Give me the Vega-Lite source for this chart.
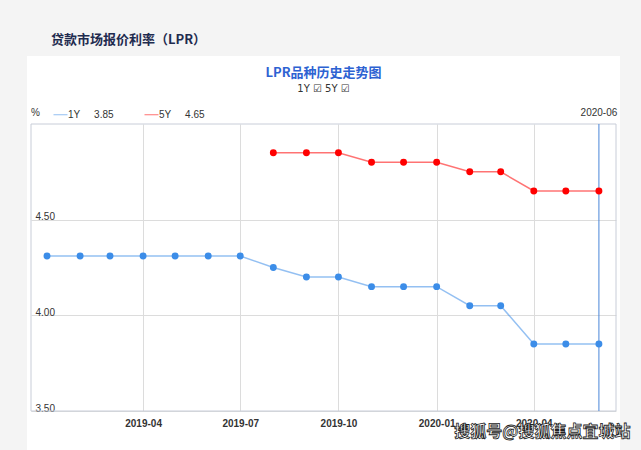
{
  "$schema": "https://vega.github.io/schema/vega-lite/v6.json",
  "width": 593,
  "height": 394,
  "autosize": {"type": "none"},
  "padding": {"left": 27, "top": 56, "right": 21, "bottom": 0},
  "background": "#f4f4f4",
  "config": {
    "view": {"fill": "white", "stroke": null},
    "font": "Liberation Sans"
  },
  "title": {
    "text": "贷款市场报价利率（LPR）",
    "anchor": "start",
    "frame": "group",
    "dx": 24,
    "offset": 9,
    "font": "Noto Sans CJK SC",
    "fontSize": 13,
    "fontWeight": "bold",
    "color": "#1e2b4f"
  },
  "data": {
    "values": [
      {"date": "2019-01-01", "term": "1Y", "rate": 4.31},
      {"date": "2019-02-01", "term": "1Y", "rate": 4.31},
      {"date": "2019-03-01", "term": "1Y", "rate": 4.31},
      {"date": "2019-04-01", "term": "1Y", "rate": 4.31},
      {"date": "2019-05-01", "term": "1Y", "rate": 4.31},
      {"date": "2019-06-01", "term": "1Y", "rate": 4.31},
      {"date": "2019-07-01", "term": "1Y", "rate": 4.31},
      {"date": "2019-08-01", "term": "1Y", "rate": 4.25},
      {"date": "2019-09-01", "term": "1Y", "rate": 4.20},
      {"date": "2019-10-01", "term": "1Y", "rate": 4.20},
      {"date": "2019-11-01", "term": "1Y", "rate": 4.15},
      {"date": "2019-12-01", "term": "1Y", "rate": 4.15},
      {"date": "2020-01-01", "term": "1Y", "rate": 4.15},
      {"date": "2020-02-01", "term": "1Y", "rate": 4.05},
      {"date": "2020-03-01", "term": "1Y", "rate": 4.05},
      {"date": "2020-04-01", "term": "1Y", "rate": 3.85},
      {"date": "2020-05-01", "term": "1Y", "rate": 3.85},
      {"date": "2020-06-01", "term": "1Y", "rate": 3.85},
      {"date": "2019-08-01", "term": "5Y", "rate": 4.85},
      {"date": "2019-09-01", "term": "5Y", "rate": 4.85},
      {"date": "2019-10-01", "term": "5Y", "rate": 4.85},
      {"date": "2019-11-01", "term": "5Y", "rate": 4.80},
      {"date": "2019-12-01", "term": "5Y", "rate": 4.80},
      {"date": "2020-01-01", "term": "5Y", "rate": 4.80},
      {"date": "2020-02-01", "term": "5Y", "rate": 4.75},
      {"date": "2020-03-01", "term": "5Y", "rate": 4.75},
      {"date": "2020-04-01", "term": "5Y", "rate": 4.65},
      {"date": "2020-05-01", "term": "5Y", "rate": 4.65},
      {"date": "2020-06-01", "term": "5Y", "rate": 4.65}
    ]
  },
  "layer": [
    {
      "data": {"values": [{}]},
      "mark": {"type": "rect", "filled": false, "stroke": "#c8cdd8", "strokeWidth": 1},
      "encoding": {
        "x": {"datum": {"year": 2018, "month": 12, "date": 17, "utc": true}, "type": "temporal",
              "scale": {"type": "utc", "domain": [{"year": 2018, "month": 12, "date": 17, "utc": true}, {"year": 2020, "month": 6, "date": 17, "utc": true}], "range": [4, 589], "nice": false}},
        "x2": {"datum": {"year": 2020, "month": 6, "date": 17, "utc": true}},
        "y": {"datum": 5.0, "type": "quantitative", "scale": {"domain": [3.5, 5.0], "range": [355, 68], "zero": false, "nice": false}},
        "y2": {"datum": 3.5}
      }
    },
    {
      "data": {"values": [{}]},
      "mark": {"type": "rule", "color": "#4a86d8", "strokeWidth": 1},
      "encoding": {
        "x": {"datum": {"year": 2020, "month": 6, "date": 1, "utc": true}, "type": "temporal",
              "scale": {"type": "utc", "domain": [{"year": 2018, "month": 12, "date": 17, "utc": true}, {"year": 2020, "month": 6, "date": 17, "utc": true}], "range": [4, 589], "nice": false}},
        "y": {"datum": 5.0, "type": "quantitative", "scale": {"domain": [3.5, 5.0], "range": [355, 68], "zero": false, "nice": false}},
        "y2": {"datum": 3.5}
      }
    },
    {
      "mark": {"type": "line", "strokeWidth": 1.5, "opacity": 0.55},
      "encoding": {
        "x": {
          "field": "date", "type": "temporal",
          "scale": {"type": "utc", "domain": [{"year": 2018, "month": 12, "date": 17, "utc": true}, {"year": 2020, "month": 6, "date": 17, "utc": true}], "range": [4, 589], "nice": false},
          "axis": {
            "orient": "top", "offset": -355,
            "values": [
              {"year": 2019, "month": 4, "date": 1, "utc": true},
              {"year": 2019, "month": 7, "date": 1, "utc": true},
              {"year": 2019, "month": 10, "date": 1, "utc": true},
              {"year": 2020, "month": 1, "date": 1, "utc": true},
              {"year": 2020, "month": 4, "date": 1, "utc": true}
            ],
            "format": "%Y-%m",
            "grid": true, "gridColor": "#dcdcdc", "gridWidth": 1,
            "domain": false, "ticks": false,
            "labelFont": "Liberation Sans", "labelFontSize": 10, "labelFontWeight": "bold", "labelColor": "#333333",
            "labelPadding": -17, "labelBaseline": "bottom", "labelFlush": false, "labelOverlap": false,
            "title": "LPR品种历史走势图",
            "titleX": 296, "titleY": -339, "titleAlign": "center", "titleBaseline": "middle",
            "titleFont": "Noto Sans CJK SC", "titleFontSize": 13, "titleFontWeight": "bold", "titleColor": "#2d62d2"
          }
        },
        "y": {
          "field": "rate", "type": "quantitative",
          "scale": {"domain": [3.5, 5.0], "range": [355, 68], "zero": false, "nice": false},
          "axis": {
            "orient": "left", "offset": -4,
            "values": [3.5, 4.0, 4.5], "format": ".2f",
            "grid": true, "gridColor": "#dcdcdc", "gridWidth": 1,
            "domain": false, "ticks": false,
            "labelAlign": "left", "labelBaseline": "alphabetic", "labelPadding": -4,
            "labelFontSize": 10, "labelColor": "#333333",
            "title": "1Y ☑  5Y ☑",
            "titleAngle": 0, "titleX": 292, "titleY": 32, "titleAlign": "center", "titleBaseline": "middle",
            "titleFont": "DejaVu Sans", "titleFontSize": 10, "titleFontWeight": "normal", "titleColor": "#333333"
          }
        },
        "color": {
          "field": "term", "type": "nominal",
          "scale": {"domain": ["1Y", "5Y"], "range": ["#3c8de8", "#ff0000"]},
          "legend": {
            "orient": "none", "legendX": 4, "legendY": 51, "direction": "horizontal",
            "title": "%", "titleOrient": "left", "titlePadding": 13,
            "titleFontSize": 10, "titleFontWeight": "normal", "titleColor": "#333333",
            "symbolType": "stroke", "symbolSize": 196, "symbolStrokeWidth": 1,
            "labelOffset": 0, "labelFontSize": 10, "labelColor": "#333333", "columnPadding": 28,
            "labelExpr": "datum.label === '1Y' ? '1Y\u00a0\u00a0\u00a0\u00a0\u00a03.85' : '5Y\u00a0\u00a0\u00a0\u00a0\u00a04.65'"
          }
        }
      }
    },
    {
      "mark": {"type": "circle", "size": 48, "opacity": 1},
      "encoding": {
        "x": {"field": "date", "type": "temporal",
              "scale": {"type": "utc", "domain": [{"year": 2018, "month": 12, "date": 17, "utc": true}, {"year": 2020, "month": 6, "date": 17, "utc": true}], "range": [4, 589], "nice": false}},
        "y": {"field": "rate", "type": "quantitative", "scale": {"domain": [3.5, 5.0], "range": [355, 68], "zero": false, "nice": false}},
        "color": {"field": "term", "type": "nominal", "scale": {"domain": ["1Y", "5Y"], "range": ["#3c8de8", "#ff0000"]}}
      }
    },
    {
      "data": {"values": [{"label": "2020-06"}]},
      "mark": {"type": "text", "fontSize": 10, "color": "#333333", "baseline": "middle", "align": "center", "dy": -11},
      "encoding": {
        "x": {"datum": {"year": 2020, "month": 6, "date": 1, "utc": true}, "type": "temporal",
              "scale": {"type": "utc", "domain": [{"year": 2018, "month": 12, "date": 17, "utc": true}, {"year": 2020, "month": 6, "date": 17, "utc": true}], "range": [4, 589], "nice": false}},
        "y": {"datum": 5.0, "type": "quantitative", "scale": {"domain": [3.5, 5.0], "range": [355, 68], "zero": false, "nice": false}},
        "text": {"field": "label"}
      }
    },
    {
      "data": {"values": [{"label": "搜狐号@搜狐焦点宜城站"}]},
      "mark": {"type": "text", "font": "Noto Sans CJK SC", "fontSize": 16, "fontWeight": "bold", "fill": "white", "stroke": "#222222", "strokeWidth": 0.8, "baseline": "middle", "align": "center"},
      "encoding": {
        "x": {"datum": {"year": 2020, "month": 4, "date": 9, "utc": true}, "type": "temporal",
              "scale": {"type": "utc", "domain": [{"year": 2018, "month": 12, "date": 17, "utc": true}, {"year": 2020, "month": 6, "date": 17, "utc": true}], "range": [4, 589], "nice": false}},
        "y": {"datum": 3.39, "type": "quantitative", "scale": {"domain": [3.5, 5.0], "range": [355, 68], "zero": false, "nice": false}},
        "text": {"field": "label"}
      }
    }
  ]
}
